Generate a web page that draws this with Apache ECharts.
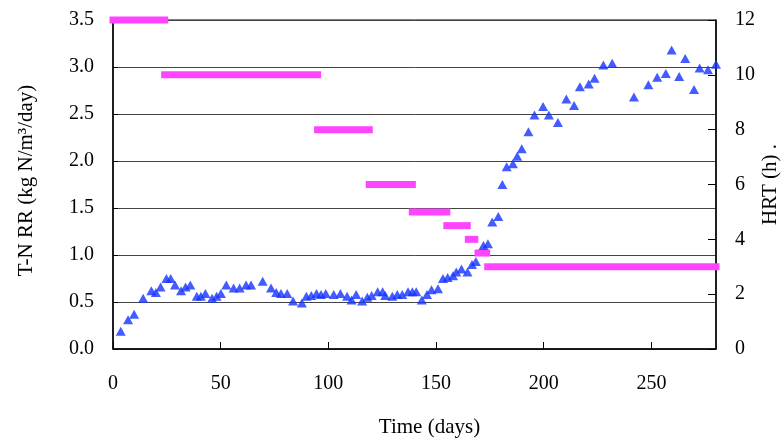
<!DOCTYPE html>
<html>
<head>
<meta charset="utf-8">
<script src="https://cdn.jsdelivr.net/npm/echarts@6/dist/echarts.min.js"></script>
<style>html,body{margin:0;padding:0;background:#fff}#c{width:781px;height:441px}</style>
</head>
<body>
<div id="c"></div>
<script>
// T-N removal rate (kg N/m3/day) vs time (days)
var days = [3.6,7,9.8,14,17.8,19.9,22.1,24.8,26.8,28.8,
  31.6,33.7,35.9,38.9,40.8,42.9,46,48.1,50.1,52.6,
  56,58.8,61.8,64.1,69.5,73.4,75.8,78,80.9,83.6,
  87.7,89.8,92.1,94.5,96.6,98.8,102.5,105.6,108.7,110.8,
  112.9,115.7,118.1,120.1,122.9,125.2,126.4,129.7,132,134.3,
  137,139,140.8,143.4,145.8,147.9,150.9,153.2,155.4,157.9,
  159.4,161.8,164.6,166.7,168.5,172,174.1,176.1,178.9,180.8,
  182.8,185.7,187.7,189.8,192.9,195.7,199.7,202.4,206.6,210.5,
  214.1,216.8,220.9,223.6,227.7,231.8,241.9,248.6,252.7,256.7,
  259.4,262.9,265.7,269.8,272.4,276.3,280];
var tnRR = [0.19,0.31,0.37,0.54,0.62,0.60,0.66,0.75,0.75,0.68,
  0.62,0.66,0.68,0.56,0.56,0.59,0.54,0.56,0.59,0.68,
  0.65,0.65,0.68,0.68,0.72,0.65,0.60,0.59,0.59,0.51,
  0.49,0.56,0.57,0.59,0.58,0.59,0.58,0.59,0.56,0.52,
  0.58,0.51,0.55,0.57,0.61,0.61,0.57,0.56,0.58,0.58,
  0.61,0.61,0.61,0.52,0.58,0.63,0.64,0.75,0.76,0.78,
  0.82,0.85,0.82,0.90,0.93,1.10,1.12,1.35,1.41,1.75,
  1.94,1.97,2.05,2.13,2.31,2.49,2.58,2.49,2.41,2.66,
  2.59,2.79,2.82,2.88,3.02,3.04,2.68,2.81,2.89,2.93,
  3.18,2.90,3.09,2.76,2.99,2.97,3.03];
// HRT steps (h)
var hrtStart = [0, 24, 95, 119, 139, 155, 165, 169.5, 174];
var hrtEnd   = [24, 95, 119, 139, 155, 164.5, 168, 173.5, 280];
var hrtValue = [12, 10, 8, 6, 5, 4.5, 4, 3.5, 3];

var FONT = "'Liberation Serif','Times New Roman',serif";
var chart = echarts.init(document.getElementById('c'), null, {renderer: 'canvas'});

var series = [];
for (var i = 0; i < hrtValue.length; i++) {
  series.push({
    type: 'line', yAxisIndex: 1, symbol: 'none', silent: true, clip: false,
    data: [[hrtStart[i], hrtValue[i]], [hrtEnd[i], hrtValue[i]]],
    lineStyle: {color: '#FF44FF', width: 7, cap: 'square'}, z: 2
  });
}
var pts = days.map(function (d, k) { return [d, tnRR[k]]; });
series.push({
  type: 'scatter', yAxisIndex: 0, symbol: 'triangle', symbolSize: [10, 9], clip: false,
  data: pts, itemStyle: {color: '#1432FF'}, z: 5
});

chart.setOption({
  animation: false,
  backgroundColor: '#fff',
  grid: {left: 113, right: 65, top: 20, bottom: 92, containLabel: false, outerBoundsMode: 'none',
    show: true, borderColor: '#000', borderWidth: 1, backgroundColor: 'transparent'},
  xAxis: {
    type: 'value', min: 0, max: 280, interval: 50,
    name: 'Time (days)', nameLocation: 'middle', nameGap: 68, nameMoveOverlap: false,
    nameTextStyle: {fontFamily: FONT, fontSize: 21, color: '#000', padding: [0, 0, 0, 30]},
    axisLine: {show: true, lineStyle: {color: '#000', width: 1.5}},
    axisTick: {show: true, inside: true, length: 7, lineStyle: {color: '#000'}},
    axisLabel: {fontFamily: FONT, fontSize: 20, color: '#000', margin: 25, showMaxLabel: false},
    splitLine: {show: false}
  },
  yAxis: [{
    type: 'value', min: 0, max: 3.5, interval: 0.5, position: 'left',
    name: 'T-N RR (kg N/m\u00B3/day)', nameLocation: 'middle', nameGap: 76, nameMoveOverlap: false,
    nameTextStyle: {fontFamily: FONT, fontSize: 21, color: '#000', padding: [0, 0, 0, 8]},
    axisLine: {show: true, lineStyle: {color: '#000', width: 1.5}},
    axisTick: {show: true, inside: true, length: 5, lineStyle: {color: '#000'}},
    axisLabel: {fontFamily: FONT, fontSize: 20, color: '#000', margin: 19,
      formatter: function (v) { return v.toFixed(1); }},
    splitLine: {show: true, lineStyle: {color: '#444', width: 1}}
  }, {
    type: 'value', min: 0, max: 12, interval: 2, position: 'right',
    name: 'HRT (h) .', nameLocation: 'middle', nameGap: 44, nameMoveOverlap: false,
    nameTextStyle: {fontFamily: FONT, fontSize: 21, color: '#000'},
    axisLine: {show: true, lineStyle: {color: '#000', width: 1.5}},
    axisTick: {show: true, inside: true, length: 8, lineStyle: {color: '#000'}},
    axisLabel: {fontFamily: FONT, fontSize: 20, color: '#000', margin: 19},
    splitLine: {show: false}
  }],
  series: series
});
</script>
</body>
</html>
